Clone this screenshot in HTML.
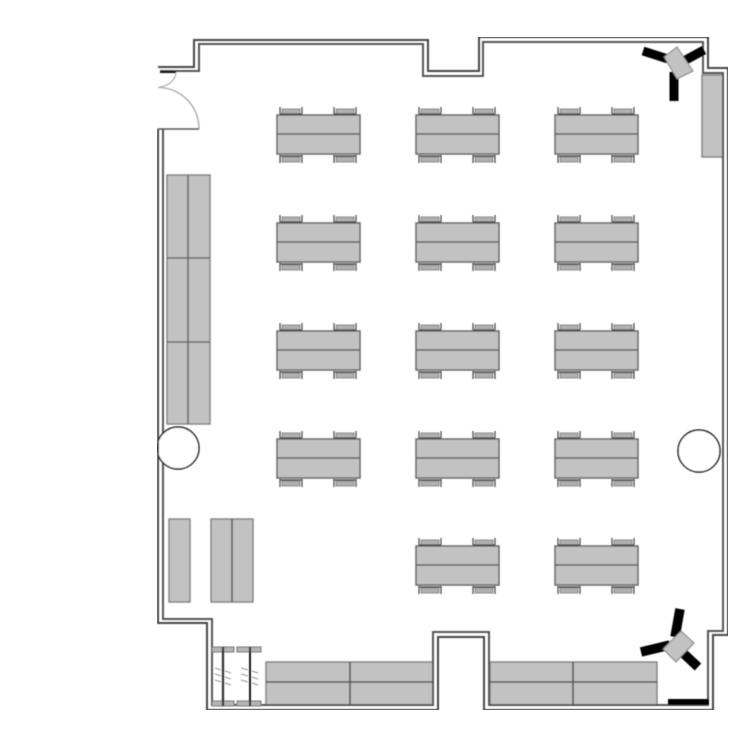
<!DOCTYPE html>
<html><head><meta charset="utf-8"><style>html,body{margin:0;padding:0;background:#fff}svg{display:block}</style></head>
<body>
<svg width="750" height="750" viewBox="0 0 750 750" xmlns="http://www.w3.org/2000/svg">
<defs>
<filter id="b" x="0" y="0" width="100%" height="100%"><feGaussianBlur stdDeviation="0.4"/></filter>
<g id="t">
<rect x="0" y="0" width="83" height="39" fill="#c2c2c2" stroke="#5e5e5e" stroke-width="1.400"/>
<line x1="0" y1="19" x2="83" y2="19" stroke="#606060" stroke-width="1.500"/>
<g id="c">
<rect x="5" y="-6" width="18" height="5" fill="#b0b0b0" stroke="#777" stroke-width=".8"/>
<path d="M3-8V-1M25-8V-1M3-1H25" fill="none" stroke="#444" stroke-width="1.200"/>
<rect x="5" y="42" width="18" height="5" fill="#b0b0b0" stroke="#777" stroke-width=".8"/>
<path d="M3 40V48M25 40V48M3 41H25" fill="none" stroke="#444" stroke-width="1.200"/>
</g>
<use href="#c" x="54"/>
</g>
</defs>
<g filter="url(#b)">
<g fill="#c2c2c2" stroke="#808080" stroke-width="1.400">
<rect x="167" y="175" width="43" height="249"/>
<path d="M188 175V424M167 258H210M167 342H210" fill="none" stroke="#6a6a6a" stroke-width="1.600"/>
<rect x="169" y="519" width="21" height="83"/>
<rect x="211" y="519" width="42" height="83"/>
<path d="M232 519V602" fill="none" stroke="#6a6a6a" stroke-width="1.800"/>
<rect x="702" y="75" width="21" height="82"/>
<rect x="266" y="662" width="167" height="43"/>
<path d="M350 662V705M266 682H433" fill="none" stroke="#555" stroke-width="1.600"/>
<rect x="490" y="662" width="167" height="43"/>
<path d="M573 662V705M490 682H657" fill="none" stroke="#555" stroke-width="1.600"/>
</g>
<use href="#t" x="277" y="115"/><use href="#t" x="416" y="115"/><use href="#t" x="555" y="115"/>
<use href="#t" x="277" y="223"/><use href="#t" x="416" y="223"/><use href="#t" x="555" y="223"/>
<use href="#t" x="277" y="331"/><use href="#t" x="416" y="331"/><use href="#t" x="555" y="331"/>
<use href="#t" x="277" y="439"/><use href="#t" x="416" y="439"/><use href="#t" x="555" y="439"/>
<use href="#t" x="416" y="546"/><use href="#t" x="555" y="546"/>
<g fill="none" stroke-linejoin="miter">
<path d="M158 67H194V40H428V71H479V37H708V68H728V635H713V710H484V637H438V710H207V623H158V129" stroke="#444" stroke-width="2"/>
<path d="M160 71H199V44H423V76H483V42H703V73H723V631H708V705H489V632H433V705H212V619H163V129" stroke="#555" stroke-width="2"/>
</g>
<path d="M160 72H176" stroke="#111" stroke-width="2" fill="none"/>
<path d="M158 129H199" stroke="#555" stroke-width="1.500" fill="none"/>
<path d="M199 129A41 41 0 0 0 158 87.500" stroke="#999" stroke-width="1.100" fill="none"/>
<path d="M176 73Q174 85 158 87.500" stroke="#aaa" stroke-width="1.100" fill="none"/>
<circle cx="178" cy="448" r="21" fill="#fff" stroke="#111" stroke-width="1.500"/>
<path d="M158 425V475" stroke="#444" stroke-width="2" fill="none"/>
<circle cx="699" cy="451" r="21" fill="#fff" stroke="#111" stroke-width="1.500"/>
<g stroke="#000" stroke-width="9" fill="none">
<path d="M643 51L668 59M704 50L682 62"/>
<path d="M674 72V101"/>
</g>
<polygon points="677,47 693,71 677,79 664,57" fill="#c2c2c2" stroke="#808080" stroke-width="1"/>
<g stroke="#000" stroke-width="9.500" fill="none">
<path d="M680 609L675 637M641 652L670 645M698 667L683 653"/>
</g>
<polygon points="681,631 694,643 676,662 663,649" fill="#c2c2c2" stroke="#808080" stroke-width="1"/>
<rect x="668" y="699" width="41" height="6" fill="#000"/>
<g fill="#b4b4b4" stroke="#777" stroke-width="1">
<rect x="212" y="647" width="22" height="5"/><rect x="237" y="647" width="24" height="5"/>
<rect x="212" y="701" width="22" height="5"/><rect x="237" y="701" width="24" height="5"/>
</g>
<path d="M223 647V706" stroke="#333" stroke-width="2.200" fill="none"/>
<path d="M250 647V706" stroke="#000" stroke-width="1.800" fill="none"/>
<path d="M215 668L221 670M225 671L231 673M215 674L221 676M225 677L231 679M215 680L221 682M225 683L231 685M241 668L248 670M252 671L258 673M241 674L248 676M252 677L258 679M241 680L248 682M252 683L258 685" stroke="#777" stroke-width=".9" fill="none"/>
</g>
</svg>
</body></html>
